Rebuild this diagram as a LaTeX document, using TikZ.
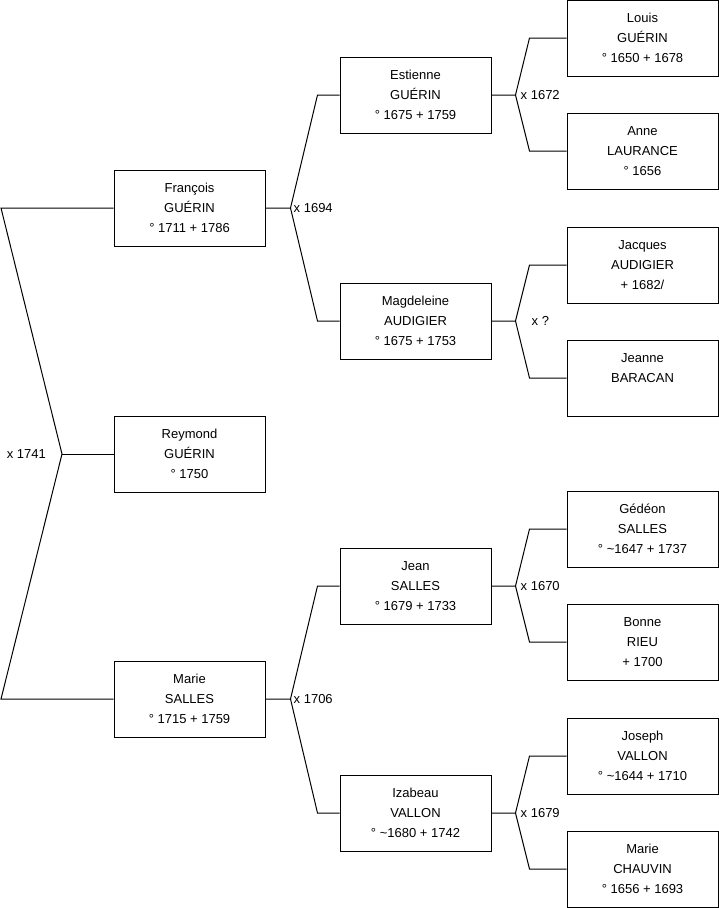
\documentclass[tikz,border=0pt]{standalone}
\usepackage{fontspec}
\setmainfont{Liberation Sans}
\tikzset{
  person/.style={draw, line width=1pt, minimum width=151pt, minimum height=76pt,
    align=center, inner sep=0pt, font=\fontsize{13}{20}\selectfont},
  wedding/.style={inner sep=0pt, font=\fontsize{13}{14}\selectfont},
  link/.style={line width=1pt}
}
\begin{document}
\begin{tikzpicture}[x=1pt, y=-1pt]
  \useasboundingbox (0,0) rectangle (719,908);

  %%%%%%%%%%%Draw the children%%%%%%%%%%%
  \node[person] (francois) at (189.5,208) {François\\GUÉRIN\\° 1711 + 1786};
  \node[person] (reymond) at (189.5,454) {Reymond\\GUÉRIN\\° 1750};
  \node[person] (marie) at (189.5,699) {Marie\\SALLES\\° 1715 + 1759};

  %%%%%%%%%%%Draw the parents%%%%%%%%%%%%
  \node[person] (estienne) at (415.5,95) {Estienne\\GUÉRIN\\° 1675 + 1759};
  \node[person] (magdeleine) at (415.5,321) {Magdeleine\\AUDIGIER\\° 1675 + 1753};
  \node[person] (jean) at (415.5,586) {Jean\\SALLES\\° 1679 + 1733};
  \node[person] (izabeau) at (415.5,813) {Izabeau\\VALLON\\° \textasciitilde 1680 + 1742};

  %%%%%%%%%%%Draw the grand parents%%%%%%
  \node[person] (louis) at (642.5,38) {Louis\\GUÉRIN\\° 1650 + 1678};
  \node[person] (anne) at (642.5,151) {Anne\\LAURANCE\\° 1656};
  \node[person] (jacques) at (642.5,265) {Jacques\\AUDIGIER\\+ 1682/};
  \node[person] (jeanne) at (642.5,378) {Jeanne\\BARACAN\\\mbox{}};
  \node[person] (gedeon) at (642.5,529) {Gédéon\\SALLES\\° \textasciitilde 1647 + 1737};
  \node[person] (bonne) at (642.5,642) {Bonne\\RIEU\\+ 1700};
  \node[person] (joseph) at (642.5,756) {Joseph\\VALLON\\° \textasciitilde 1644 + 1710};
  \node[person] (mariec) at (642.5,869) {Marie\\CHAUVIN\\° 1656 + 1693};

  %%%%%%%%%%%Draw the first couple%%%%%%%
  \coordinate (lf) at (1,208);
  \coordinate (lm) at (1,699);
  \coordinate (j1741) at (62,454);
  \draw[link] (francois.west) -- (lf) -- (j1741) -- (lm) -- (marie.west);
  \draw[link] (j1741) -- (reymond.west);
  \node[wedding, anchor=east] (m1741) at ([xshift=-16pt]j1741) {x 1741};

  %%%%%%%%%%%Draw the second couples%%%%
  \coordinate (j1694) at ([xshift=25pt]francois.east);
  \draw[link] (francois.east) -- (j1694) -- ([xshift=-22pt]estienne.west) -- (estienne.west);
  \draw[link] (j1694) -- ([xshift=-22pt]magdeleine.west) -- (magdeleine.west);
  \node[wedding, anchor=west] (m1694) at ([xshift=3pt]j1694) {x 1694};

  \coordinate (j1706) at ([xshift=25pt]marie.east);
  \draw[link] (marie.east) -- (j1706) -- ([xshift=-22pt]jean.west) -- (jean.west);
  \draw[link] (j1706) -- ([xshift=-22pt]izabeau.west) -- (izabeau.west);
  \node[wedding, anchor=west] (m1706) at ([xshift=3pt]j1706) {x 1706};

  %%%%%%%%%%%Draw the third couples%%%%%
  \coordinate (j1672) at ([xshift=24pt]estienne.east);
  \draw[link] (estienne.east) -- (j1672) -- ([xshift=-37pt]louis.west) -- (louis.west);
  \draw[link] (j1672) -- ([xshift=-37pt]anne.west) -- (anne.west);
  \node[wedding, anchor=west] (m1672) at ([xshift=5pt]j1672) {x 1672};

  \coordinate (jq) at ([xshift=24pt]magdeleine.east);
  \draw[link] (magdeleine.east) -- (jq) -- ([xshift=-37pt]jacques.west) -- (jacques.west);
  \draw[link] (jq) -- ([xshift=-37pt]jeanne.west) -- (jeanne.west);
  \node[wedding, anchor=west] (mq) at ([xshift=16pt]jq) {x ?};

  \coordinate (j1670) at ([xshift=24pt]jean.east);
  \draw[link] (jean.east) -- (j1670) -- ([xshift=-37pt]gedeon.west) -- (gedeon.west);
  \draw[link] (j1670) -- ([xshift=-37pt]bonne.west) -- (bonne.west);
  \node[wedding, anchor=west] (m1670) at ([xshift=5pt]j1670) {x 1670};

  \coordinate (j1679) at ([xshift=24pt]izabeau.east);
  \draw[link] (izabeau.east) -- (j1679) -- ([xshift=-37pt]joseph.west) -- (joseph.west);
  \draw[link] (j1679) -- ([xshift=-37pt]mariec.west) -- (mariec.west);
  \node[wedding, anchor=west] (m1679) at ([xshift=5pt]j1679) {x 1679};
\end{tikzpicture}
\end{document}
